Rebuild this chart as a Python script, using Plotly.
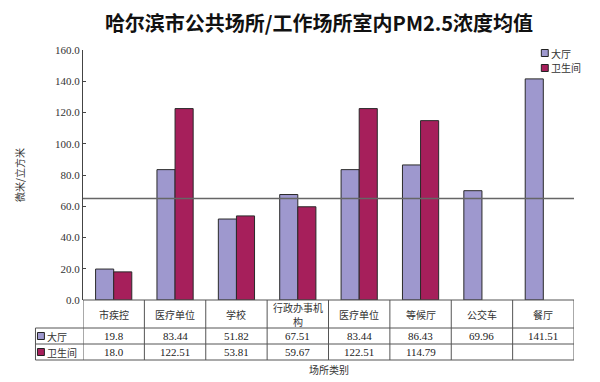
import plotly.graph_objects as go

categories = ["市疾控", "医疗单位", "学校", "行政办事机<br>构", "医疗单位", "等候厅", "公交车", "餐厅"]
hall = [19.8, 83.44, 51.82, 67.51, 83.44, 86.43, 69.96, 141.51]
toilet = [18.0, 122.51, 53.81, 59.67, 122.51, 114.79, None, None]
hall_labels = ["19.8", "83.44", "51.82", "67.51", "83.44", "86.43", "69.96", "141.51"]
toilet_labels = ["18.0", "122.51", "53.81", "59.67", "122.51", "114.79", "", ""]
series_names = ["大厅", "卫生间"]
ref_level = 65
yticks = [0, 20, 40, 60, 80, 100, 120, 140, 160]

c_hall = "#9E98CE"
c_toilet = "#A61F5B"
line_c = "#555555"
cjk = "Noto Sans CJK SC"
num_font = "Liberation Serif, Noto Sans CJK SC"

xs = list(range(len(categories)))

fig = go.Figure()
fig.add_trace(go.Bar(x=xs, y=hall, name=series_names[0], showlegend=False,
                     marker=dict(color=c_hall, line=dict(color="#2a2a2a", width=1))))
fig.add_trace(go.Bar(x=xs, y=toilet, name=series_names[1], showlegend=False,
                     marker=dict(color=c_toilet, line=dict(color="#2a2a2a", width=1))))

# page body adds an 8px offset; plot area in the final picture spans x 78-574, y 50-300
OFF = 8
H = 250.0
W = 496.0
def py(p):
    return (300 - p) / H
def px(p):
    return (p - 78) / W

shapes = []
shapes.append(dict(type="line", xref="paper", yref="y", x0=0, x1=1, y0=ref_level, y1=ref_level,
                   line=dict(color="#666666", width=1.5)))
left = px(30)
for yy, x0 in [(300, 0), (328, left), (344, left), (360, left)]:
    shapes.append(dict(type="line", xref="paper", yref="paper", x0=x0, x1=1, y0=py(yy), y1=py(yy),
                       line=dict(color=line_c, width=1)))
for i in range(len(categories) + 1):
    shapes.append(dict(type="line", xref="x", yref="paper", x0=i - 0.5, x1=i - 0.5, y0=py(300), y1=py(360),
                       line=dict(color=line_c, width=1)))
shapes.append(dict(type="line", xref="paper", yref="paper", x0=left, x1=left, y0=py(328), y1=py(360),
                   line=dict(color=line_c, width=1)))

def key(x0p, yc, col):
    return dict(type="rect", xref="paper", yref="paper", x0=px(x0p), x1=px(x0p + 7),
                y0=py(yc + 3.5), y1=py(yc - 3.5), fillcolor=col, line=dict(color="#222", width=1))

shapes.append(key(32, 336, c_hall))
shapes.append(key(32, 352, c_toilet))
shapes.append(key(541, 53, c_hall))
shapes.append(key(541, 68, c_toilet))

ann = []
for i, c in enumerate(categories):
    parts = c.split("<br>")
    if len(parts) == 1:
        ys = [314]
    else:
        ys = [307, 321]
    for part, yy in zip(parts, ys):
        ann.append(dict(x=i, y=py(yy), xref="x", yref="paper", text=part, showarrow=False,
                        xanchor="center", yanchor="middle",
                        font=dict(family=cjk, size=10, color="#333")))
    ann.append(dict(x=i, y=py(336), xref="x", yref="paper", text=hall_labels[i], showarrow=False,
                    xanchor="center", yanchor="middle",
                    font=dict(family=num_font, size=11, color="#222")))
    ann.append(dict(x=i, y=py(352), xref="x", yref="paper", text=toilet_labels[i], showarrow=False,
                    xanchor="center", yanchor="middle",
                    font=dict(family=num_font, size=11, color="#222")))

def label(xp, yc, t):
    return dict(x=px(xp), y=py(yc), xref="paper", yref="paper", text=t, showarrow=False,
                xanchor="left", yanchor="middle", font=dict(family=cjk, size=10, color="#333"))

ann.append(label(40, 336, series_names[0]))
ann.append(label(40, 352, series_names[1]))
ann.append(label(549, 53, series_names[0]))
ann.append(label(549, 68, series_names[1]))
ann.append(dict(x=px(326), y=py(369), xref="paper", yref="paper", text="场所类别", showarrow=False,
                xanchor="center", yanchor="middle", font=dict(family=cjk, size=10, color="#333")))

fig.update_layout(
    width=600, height=382,
    margin=dict(l=78 - OFF, r=600 - (78 - OFF) - 496, t=50 - OFF, b=382 - (50 - OFF) - 250),
    paper_bgcolor="white", plot_bgcolor="white",
    title=dict(text="<b>哈尔滨市公共场所/工作场所室内PM2.5浓度均值</b>", x=(319 - OFF) / 600, xanchor="center",
               y=1 - (24 - OFF) / 382, yanchor="middle", font=dict(family=cjk, size=20, color="#111")),
    barmode="group", bargap=0.41, bargroupgap=0,
    showlegend=False,
    xaxis=dict(range=[-0.5, len(categories) - 0.5], showticklabels=False, ticks="", showgrid=False,
               zeroline=False, showline=False, fixedrange=True),
    yaxis=dict(range=[0, 160], tickvals=yticks, tickformat=".1f", ticks="inside", ticklen=3,
               tickcolor="#444", showline=True, linecolor="#444", linewidth=1, showgrid=False,
               zeroline=False, tickfont=dict(family=num_font, size=11, color="#333"),
               title=dict(text="微米/立方米", font=dict(family=cjk, size=10, color="#333"), standoff=28)),
    shapes=shapes, annotations=ann,
)
fig.write_html("out.html")
